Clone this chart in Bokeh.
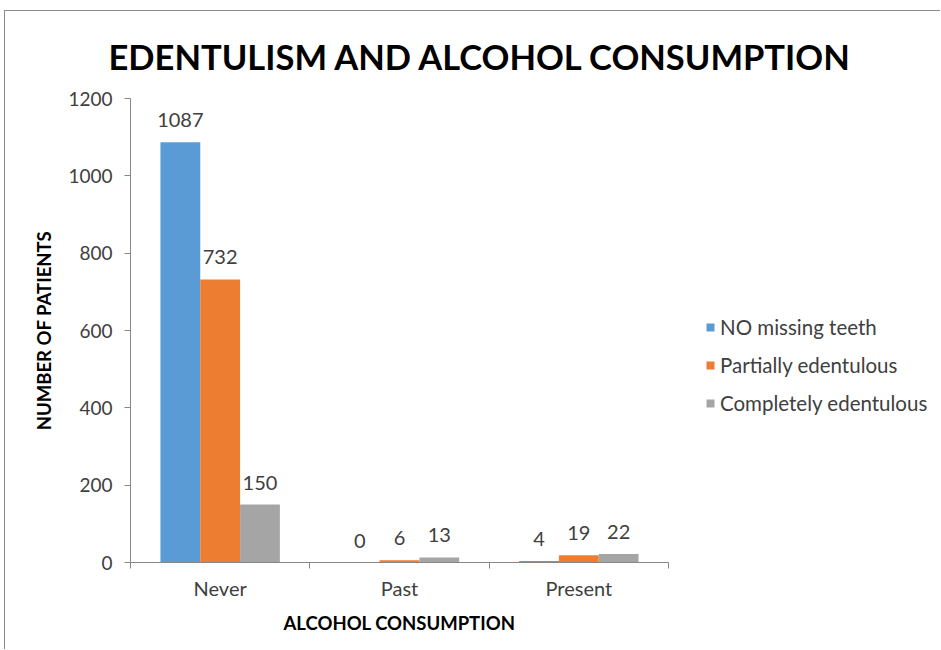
from bokeh.plotting import figure
from bokeh.models import (Range1d, LinearAxis, FixedTicker, Title,
                          ColumnDataSource, Legend, LegendItem, LabelSet)
from bokeh.core.properties import value
from bokeh.transform import dodge
from bokeh.embed import file_html
from bokeh.resources import INLINE

categories = ["Never", "Past", "Present"]
series_names = ["NO missing teeth", "Partially edentulous", "Completely edentulous"]
no_missing = [1087, 0, 4]
partial = [732, 6, 19]
complete = [150, 13, 22]
colors = ["#5B9BD5", "#ED7D31", "#A5A5A5"]
y_ticks = [0, 200, 400, 600, 800, 1000, 1200]

FONT = "Lato"
AXIS_GREY = "#868686"
TEXT = "#404040"

# layout geometry (pixels): frame spans to the canvas edge so the legend fits inside it,
# while the category axis occupies only its left part
FRAME_W = 811
CAT_SPAN_PX = 538
n_cat = len(categories)
x_end = n_cat * FRAME_W / CAT_SPAN_PX

centres = [i + 0.5 for i in range(n_cat)]
bounds = [float(i) for i in range(n_cat + 1)]

src = ColumnDataSource(dict(xc=centres, s0=no_missing, s1=partial, s2=complete,
                            l0=[str(v) for v in no_missing],
                            l1=[str(v) for v in partial],
                            l2=[str(v) for v in complete]))

p = figure(x_range=Range1d(0, x_end), y_range=Range1d(0, 1200),
           width=936, height=639, output_backend="svg", toolbar_location=None,
           x_axis_location=None, min_border_left=125, min_border_right=0,
           min_border_top=86, min_border_bottom=88)
p.margin = (10, 0, 0, 4)
p.styles = {"border-top": "1px solid #8a8a8a", "border-left": "1px solid #8a8a8a"}

p.title.text = "EDENTULISM AND ALCOHOL CONSUMPTION"
p.title.text_font = FONT
p.title.text_font_style = "bold"
p.title.text_font_size = "34.5px"
p.title.text_color = "#000000"
p.title.align = "left"
p.title.offset = -22
p.title.standoff = 44

p.outline_line_color = None
p.grid.grid_line_color = None
p.background_fill_color = "white"
p.border_fill_color = "white"

width = 0.222
offsets = [-width, 0.0, width]
renderers = []
for i, (off, col) in enumerate(zip(offsets, colors)):
    r = p.vbar(x=dodge("xc", off), top="s%d" % i, width=width,
               source=src, fill_color=col, line_color=None)
    renderers.append(r)
    lbl = LabelSet(x=dodge("xc", off), y="s%d" % i, text="l%d" % i,
                   source=src, text_align="center", text_baseline="bottom", y_offset=15,
                   text_font=value(FONT), text_font_size=value("20px"), text_color=TEXT)
    p.add_layout(lbl)

# y axis
ya = p.yaxis[0]
ya.ticker = FixedTicker(ticks=y_ticks)
ya.axis_line_color = AXIS_GREY
ya.major_tick_line_color = AXIS_GREY
ya.major_tick_out = 6
ya.major_tick_in = 0
ya.minor_tick_line_color = None
ya.major_label_standoff = 12
ya.major_label_text_font = FONT
ya.major_label_text_font_size = "19px"
ya.major_label_text_color = TEXT
ya.axis_label = "NUMBER OF PATIENTS"
ya.axis_label_text_font = FONT
ya.axis_label_text_font_style = "bold"
ya.axis_label_text_font_size = "18.5px"
ya.axis_label_text_color = "#000000"
ya.axis_label_standoff = 10

# x axis: labels at category centres, ticks at category boundaries
xa = LinearAxis(ticker=FixedTicker(ticks=centres, minor_ticks=bounds),
                bounds=(bounds[0], bounds[-1]),
                major_label_overrides=dict(zip(centres, categories)),
                major_tick_line_color=None, major_tick_out=0, major_tick_in=0,
                minor_tick_line_color=AXIS_GREY, minor_tick_out=6, minor_tick_in=0,
                axis_line_color=AXIS_GREY, major_label_standoff=7,
                major_label_text_font=FONT, major_label_text_font_size="20px",
                major_label_text_color=TEXT)
p.add_layout(xa, "below")

# x axis title, centred under the category span
x_title = Title(text="ALCOHOL CONSUMPTION", align="left", offset=153, standoff=14,
                text_font=FONT, text_font_style="bold", text_font_size="18.5px",
                text_color="#000000")
p.add_layout(x_title, "below")

legend = Legend(items=[LegendItem(label=n, renderers=[r]) for n, r in zip(series_names, renderers)],
                location=(575, 147), orientation="vertical", glyph_width=10, glyph_height=10,
                label_height=24, spacing=14, padding=0, margin=0, label_standoff=5,
                label_text_font=FONT, label_text_font_size="20.5px", label_text_color=TEXT,
                border_line_color=None, background_fill_alpha=0)
p.add_layout(legend, "center")

html = file_html(p, INLINE)
open("out.html", "w").write(html)
